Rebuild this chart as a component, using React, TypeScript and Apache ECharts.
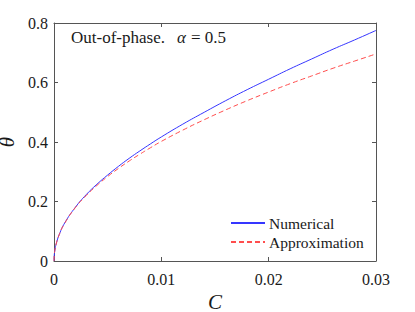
import React, { useEffect, useRef } from "react";
import * as echarts from "echarts";

const cValues = [0, 0.00002, 0.0001, 0.0002, 0.0005, 0.001, 0.002, 0.003, 0.004, 0.005, 0.006, 0.007, 0.008, 0.009, 0.01, 0.012, 0.014, 0.016, 0.018, 0.02, 0.022, 0.024, 0.026, 0.028, 0.03];
const numerical = [0, 0.018, 0.04, 0.057, 0.09, 0.128, 0.181, 0.223, 0.258, 0.289, 0.318, 0.345, 0.37, 0.394, 0.417, 0.46, 0.5, 0.539, 0.576, 0.611, 0.646, 0.679, 0.712, 0.743, 0.775];
const approximation = [0, 0.018, 0.04, 0.057, 0.09, 0.127, 0.18, 0.22, 0.254, 0.284, 0.311, 0.336, 0.359, 0.381, 0.402, 0.44, 0.475, 0.508, 0.539, 0.568, 0.596, 0.622, 0.648, 0.672, 0.696];
const seriesNames = ["Numerical", "Approximation"];
const titleParts = ["Out-of-phase.", "α", "= 0.5"];

const FONT = "Liberation Serif";
const AXIS_COLOR = "#555";
const TEXT_COLOR = "#1a1a1a";

export default function App() {
  const ref = useRef<HTMLDivElement>(null);
  useEffect(() => {
    if (!ref.current) return;
    const chart = echarts.init(ref.current, null, { renderer: "svg" });
    const tickStyle = { show: true, inside: true, length: 4, lineStyle: { color: AXIS_COLOR, width: 1 } };
    const lineAx = { show: true, onZero: false, lineStyle: { color: AXIS_COLOR, width: 1 } };
    chart.setOption({
      animation: false,
      backgroundColor: "#fff",
      grid: { left: 54, right: 39, top: 23, bottom: 51, containLabel: false, outerBoundsMode: "none" },
      graphic: [
        { type: "text", x: 71, y: 37, style: { text: titleParts[0], fontFamily: FONT, fontSize: 17, fill: TEXT_COLOR, verticalAlign: "middle" } },
        { type: "text", x: 177, y: 37, style: { text: titleParts[1], fontFamily: FONT, fontSize: 17, fontStyle: "italic", fill: TEXT_COLOR, verticalAlign: "middle" } },
        { type: "text", x: 191, y: 37, style: { text: titleParts[2], fontFamily: FONT, fontSize: 17, fill: TEXT_COLOR, verticalAlign: "middle" } },
      ],
      legend: {
        orient: "vertical",
        left: 225,
        top: 210,
        itemWidth: 34,
        itemHeight: 10,
        itemGap: 3,
        itemStyle: { opacity: 0 },
        textStyle: { fontFamily: FONT, fontSize: 15.5, color: TEXT_COLOR, padding: [0, 0, 0, -1] },
        data: seriesNames,
      },
      xAxis: [
        {
          type: "value",
          min: 0,
          max: 0.03,
          interval: 0.01,
          name: "C",
          nameLocation: "middle",
          nameGap: 25,
          nameTextStyle: { fontFamily: FONT, fontSize: 21, fontStyle: "italic", color: TEXT_COLOR },
          axisLine: lineAx,
          axisTick: tickStyle,
          axisLabel: { fontFamily: FONT, fontSize: 16, color: TEXT_COLOR, margin: 10 },
          splitLine: { show: false },
        },
        {
          type: "value",
          position: "top",
          min: 0,
          max: 0.03,
          interval: 0.01,
          axisLine: lineAx,
          axisTick: tickStyle,
          axisLabel: { show: false },
          splitLine: { show: false },
        },
      ],
      yAxis: [
        {
          type: "value",
          min: 0,
          max: 0.8,
          interval: 0.2,
          name: "θ",
          nameLocation: "middle",
          nameGap: 34,
          nameTextStyle: { fontFamily: FONT, fontSize: 21, fontStyle: "italic", color: TEXT_COLOR },
          axisLine: lineAx,
          axisTick: tickStyle,
          axisLabel: { fontFamily: FONT, fontSize: 16, color: TEXT_COLOR, margin: 6 },
          splitLine: { show: false },
        },
        {
          type: "value",
          position: "right",
          min: 0,
          max: 0.8,
          interval: 0.2,
          axisLine: lineAx,
          axisTick: tickStyle,
          axisLabel: { show: false },
          splitLine: { show: false },
        },
      ],
      series: [
        {
          name: seriesNames[0],
          type: "line",
          data: cValues.map((c, i) => [c, numerical[i]]),
          showSymbol: false,
          symbol: "none",
          smooth: true,
          lineStyle: { color: "#3636ff", width: 1 },
          itemStyle: { color: "#3636ff" },
        },
        {
          name: seriesNames[1],
          type: "line",
          data: cValues.map((c, i) => [c, approximation[i]]),
          showSymbol: false,
          symbol: "none",
          smooth: true,
          lineStyle: { color: "#ff4d4d", width: 1, type: [5, 3] },
          itemStyle: { color: "#ff4d4d" },
        },
      ],
    });
    return () => chart.dispose();
  }, []);
  return <div ref={ref} style={{ position: "absolute", left: 0, top: 0, width: 415, height: 312 }} />;
}
